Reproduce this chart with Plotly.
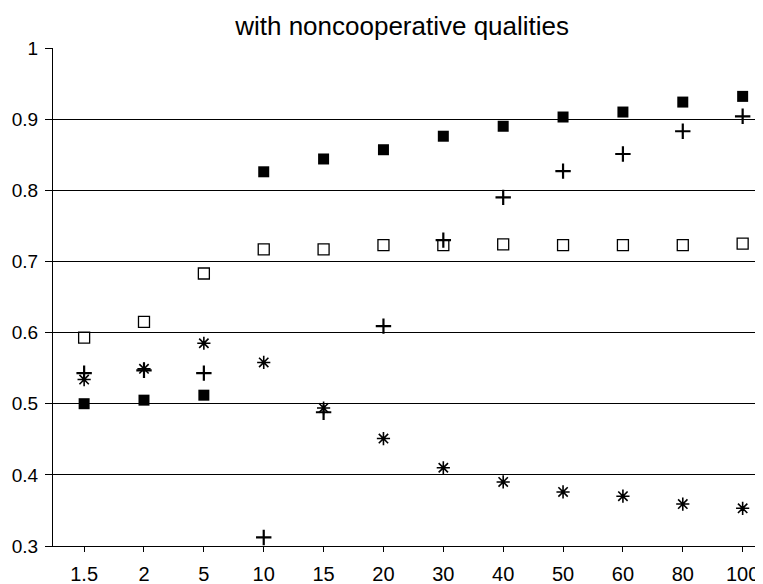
import plotly.graph_objects as go

categories = ["1.5", "2", "5", "10", "15", "20", "30", "40", "50", "60", "80", "100"]
filled_sq = [0.500, 0.505, 0.512, 0.826, 0.844, 0.857, 0.876, 0.890, 0.903, 0.910, 0.924, 0.932]
open_sq = [0.593, 0.615, 0.683, 0.717, 0.717, 0.723, 0.723, 0.724, 0.723, 0.723, 0.723, 0.725]
plus = [0.543, 0.547, 0.543, 0.312, 0.488, 0.609, 0.730, 0.790, 0.827, 0.851, 0.883, 0.904]
aster = [0.534, 0.549, 0.585, 0.558, 0.494, 0.451, 0.410, 0.390, 0.376, 0.370, 0.359, 0.353]
y_ticks = [0.3, 0.4, 0.5, 0.6, 0.7, 0.8, 0.9, 1.0]
y_ticktext = ["0.3", "0.4", "0.5", "0.6", "0.7", "0.8", "0.9", "1"]

fig = go.Figure()
fig.add_trace(go.Scatter(x=categories, y=filled_sq, mode="markers",
                         marker=dict(symbol="square", size=11, color="black")))
fig.add_trace(go.Scatter(x=categories, y=open_sq, mode="markers",
                         marker=dict(symbol="square-open", size=11, color="black",
                                     line=dict(width=1.3, color="black"))))
fig.add_trace(go.Scatter(x=categories, y=plus, mode="markers",
                         marker=dict(symbol="cross-thin", size=11, color="black",
                                     line=dict(width=2.2, color="black"))))
fig.add_trace(go.Scatter(x=categories, y=aster, mode="markers",
                         marker=dict(symbol="asterisk", size=11, color="black",
                                     line=dict(width=1.6, color="black"))))

font = "Liberation Sans, Arial, sans-serif"
# page body has an 8px margin, so the figure is sized to the visible area
fig.update_layout(
    width=755, height=576,
    margin=dict(l=45, r=0, t=40, b=38, autoexpand=False),
    paper_bgcolor="white", plot_bgcolor="white",
    showlegend=False,
    title=dict(text="with noncooperative qualities", x=0.522, xref="container",
               xanchor="center", y=0.985, yref="container", yanchor="top",
               font=dict(family=font, size=26, color="black")),
    font=dict(family=font, size=19, color="black"),
)
fig.update_xaxes(type="category", range=[-0.52, 11.34], showgrid=False,
                 automargin=False,
                 showline=True, linecolor="black", linewidth=1,
                 ticks="outside", ticklen=5, tickcolor="black",
                 ticklabelstandoff=5,
                 tickfont=dict(family=font, size=20, color="black"), zeroline=False)
fig.update_yaxes(range=[0.3, 1.0], tickvals=y_ticks, ticktext=y_ticktext,
                 automargin=False,
                 showgrid=True, gridcolor="black", gridwidth=1,
                 showline=True, linecolor="black", linewidth=1,
                 ticks="outside", ticklen=7, tickcolor="black",
                 ticklabelstandoff=3,
                 tickfont=dict(family=font, size=19, color="black"), zeroline=False)

fig.write_html("out.html")
